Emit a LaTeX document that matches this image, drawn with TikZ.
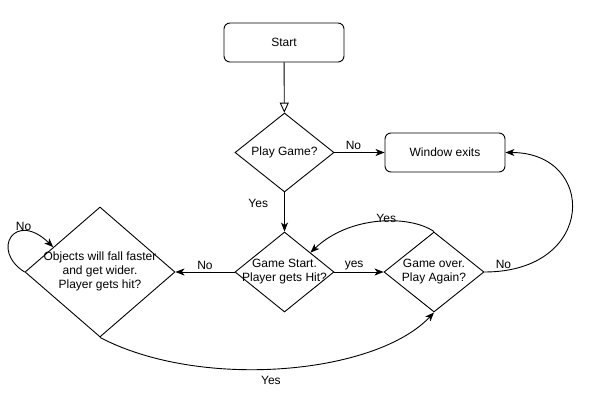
\documentclass[tikz,border=0pt]{standalone}
\usepackage{fontspec}
\setmainfont{Liberation Sans}
\usetikzlibrary{arrows.meta,shapes.geometric,calc,positioning}

% text box that does not make the diamonds grow
\newcommand{\flowtxt}[1]{\smash{\makebox[0pt]{\raisebox{-3pt}{\begin{tabular}{@{}c@{}}#1\end{tabular}}}}}

\begin{document}
\begin{tikzpicture}[x=1pt,y=-1pt,line width=0.9pt,
                    font=\fontsize{12}{14}\selectfont]
	\useasboundingbox (0,0) rectangle (602,406);

	\begin{scope}[every node/.style={draw,inner sep=0pt}]
	    \node[rectangle,rounded corners=6pt,minimum width=120pt,minimum height=39pt] (start) at (284,42.5) {Start};
	    \node[diamond,minimum width=99pt,minimum height=79pt] (play) at (284.5,152.5) {\flowtxt{Play Game?}};
	    \node[rectangle,rounded corners=6pt,minimum width=120pt,minimum height=39pt] (exits) at (445,152.5) {Window exits};
	    \node[diamond,minimum width=99pt,minimum height=80pt] (hit) at (284.5,272) {\flowtxt{Game Start.\\Player gets Hit?}};
	    \node[diamond,minimum width=150pt,minimum height=130pt] (faster) at (100,272) {\flowtxt{Objects will fall faster\\and get wider.\\Player gets hit?}};
	    \node[diamond,minimum width=100pt,minimum height=80pt] (over) at (434,272) {\flowtxt{Game over.\\Play Again?}};
	\end{scope}

	\begin{scope}[>={Stealth[length=9pt,width=7pt,inset=2.5pt]},
	              every node/.style={inner sep=2pt}]
	    \draw[-{Triangle[open,length=10pt,width=9pt]}] (start) -- (play);
	    \draw[->] (play) -- node[above,pos=0.38] {No} (exits);
	    \draw[->] (play) -- node[left=14pt,pos=0.28] {Yes} (hit);
	    \draw[->] (hit) -- node[above,pos=0.5] {No} (faster);
	    \draw[->] (hit) -- node[above,pos=0.4] {yes} (over);
	    % curved returns
	    \draw[->] (over.east) .. controls (597,272) and (597,152.5) .. node[above,pos=0.06] {No} (exits.east);
	    \draw[->] (over.north) .. controls (410,215) and (350,215) .. node[above=-4pt,pos=0.44] {Yes} ($(hit.north)!0.52!(hit.east)$);
	    \draw[->] (faster.south) .. controls (200,390) and (375,375) .. node[below=5pt,pos=0.47] {Yes} (over.south);
	    \draw[->] (faster.west) .. controls (-10,250) and (15,210) .. node[above,pos=0.6,xshift=7pt] {No} ($(faster.west)!0.38!(faster.north)$);
	\end{scope}
\end{tikzpicture}
\end{document}
